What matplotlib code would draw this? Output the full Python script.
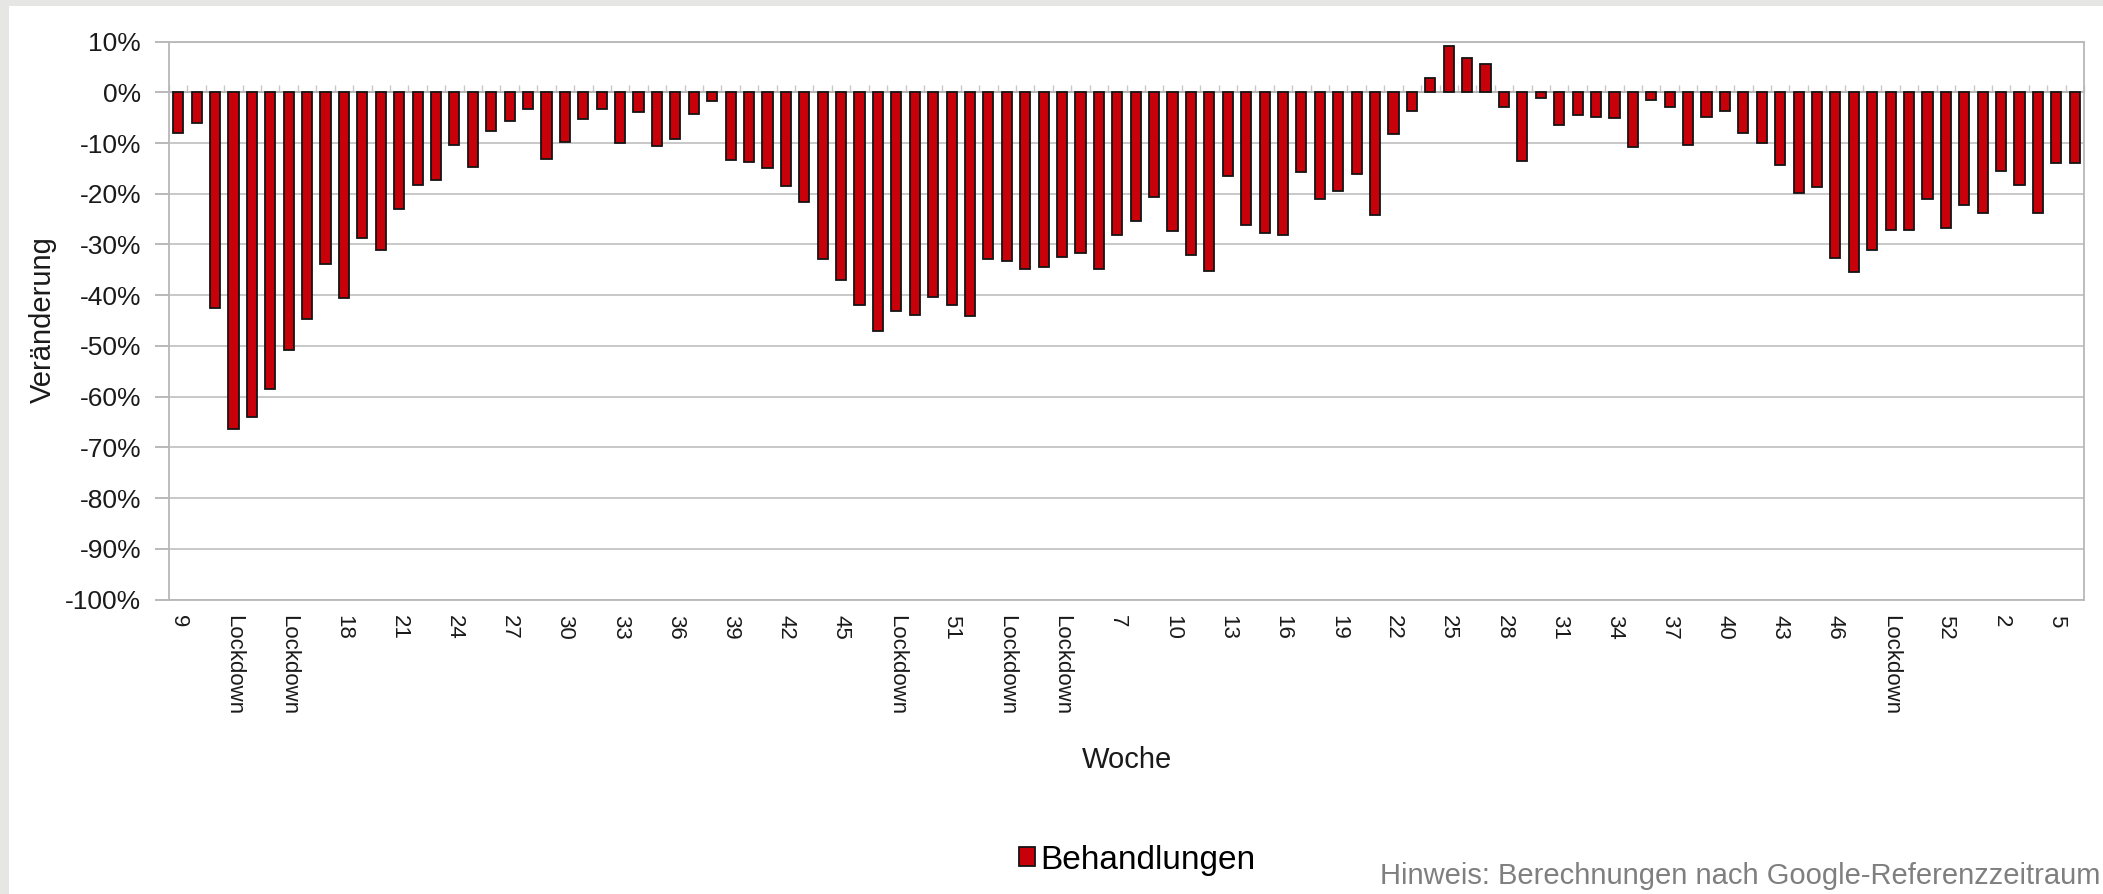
import numpy as np
import matplotlib.pyplot as plt
from matplotlib.patches import Rectangle

plt.rcParams['font.family'] = ['Liberation Sans', 'DejaVu Sans']

# Veränderung der Behandlungen je Woche (in %), Woche 9/2020 bis 6/2022
werte = [
    -8.0, -6.0, -42.6, -66.4, -64.0, -58.5, -50.9, -44.6, -33.8, -40.6,
    -28.7, -31.1, -23.0, -18.3, -17.2, -10.4, -14.8, -7.6, -5.6, -3.2,
    -13.2, -9.7, -5.2, -3.2, -10.0, -3.8, -10.5, -9.2, -4.3, -1.8,
    -13.4, -13.8, -15.0, -18.5, -21.7, -32.8, -37.1, -41.9, -47.1, -43.2,
    -43.9, -40.3, -41.9, -44.2, -32.8, -33.2, -34.8, -34.4, -32.5, -31.6,
    -34.8, -28.1, -25.3, -20.6, -27.3, -32.1, -35.2, -16.5, -26.1, -27.7,
    -28.1, -15.8, -21.0, -19.4, -16.2, -24.1, -8.3, -3.6, 2.8, 9.2,
    6.8, 5.6, -2.8, -13.6, -1.2, -6.4, -4.4, -4.8, -5.1, -10.8,
    -1.6, -2.8, -10.4, -4.8, -3.6, -8.0, -10.0, -14.3, -19.9, -18.7,
    -32.6, -35.4, -31.0, -27.1, -27.1, -21.1, -26.7, -22.3, -23.8, -15.6,
    -18.3, -23.8, -13.9, -13.9,
]

# Beschriftung jeder dritten Woche
beschriftung = [
    "9", "Lockdown", "Lockdown", "18", "21", "24", "27", "30", "33", "36",
    "39", "42", "45", "Lockdown", "51", "Lockdown", "Lockdown", "7", "10", "13",
    "16", "19", "22", "25", "28", "31", "34", "37", "40", "43",
    "46", "Lockdown", "52", "2", "5",
]

W, H = 2103, 894
fig = plt.figure(figsize=(W / 100, H / 100), dpi=100)
fig.patch.set_facecolor('#e6e6e4')
# weisser Hintergrund (grauer Rand oben und links)
fig.patches.append(Rectangle((9 / W, 0), 1, 1 - 6 / H, transform=fig.transFigure,
                             facecolor='white', edgecolor='none', zorder=-1))

ax = fig.add_axes([169 / W, 1 - 599.5 / H, (2084 - 169) / W, (599.5 - 41.6) / H])
ax.set_zorder(1)
x = np.arange(len(werte))
ax.bar(x, werte, width=0.55, color='#c8000a', edgecolor='#141414', linewidth=1.3,
       label='Behandlungen', zorder=3)

ax.set_xlim(-0.5, len(werte) - 0.5)
ax.set_ylim(-100, 10)
ax.set_yticks(np.arange(-100, 11, 10))
ax.set_yticklabels([f"{v}%" for v in range(-100, 11, 10)], fontsize=19)
ax.yaxis.grid(True, color='#c4c4c4', linewidth=1.3, zorder=0)
ax.set_axisbelow(True)

ax.set_xticks(x[::3])
ax.set_xticklabels(beschriftung, rotation=-90, fontsize=16, va='top', ha='center')
ax.tick_params(axis='x', length=0, pad=11, colors='#1a1a1a')
ax.tick_params(axis='y', length=10, width=1.3, color='#b3b3b3', pad=10, labelcolor='#1a1a1a')

for s in ax.spines.values():
    s.set_color('#b8b8b8')
    s.set_linewidth(1.3)

# x-Achse bei 0% mit kleinen Teilstrichen zwischen den Wochen
ax.axhline(0, color='#b3b3b3', linewidth=1.3, zorder=2)
null_pos = (0 - (-100)) / 110
sec = ax.secondary_xaxis(null_pos)
sec.set_xticks(np.arange(-0.5, len(werte), 1))
sec.set_xticklabels([])
sec.tick_params(axis='x', direction='out', length=5, width=1, color='#c8c8c8')
sec.spines['bottom'].set_visible(False)
sec.spines['top'].set_visible(False)

fig.text(43 / W, 1 - 320 / H, "Veränderung", rotation=90, ha='center', va='center',
         fontsize=21, color='#1a1a1a')
fig.text((169 + 2084) / 2 / W, 1 - 760 / H, "Woche", ha='center', va='center',
         fontsize=21, color='#1a1a1a')

leg = fig.legend(loc='center', bbox_to_anchor=(1137 / W, 1 - 860 / H), frameon=False,
                 fontsize=24, handlelength=0.5, handleheight=0.5, handletextpad=0.15)

fig.text(2100 / W, 1 - 876 / H, "Hinweis: Berechnungen nach Google-Referenzzeitraum",
         ha='right', va='center', fontsize=21, color='#7f7f7f')

fig.savefig('out.png', dpi=100, facecolor=fig.get_facecolor())
